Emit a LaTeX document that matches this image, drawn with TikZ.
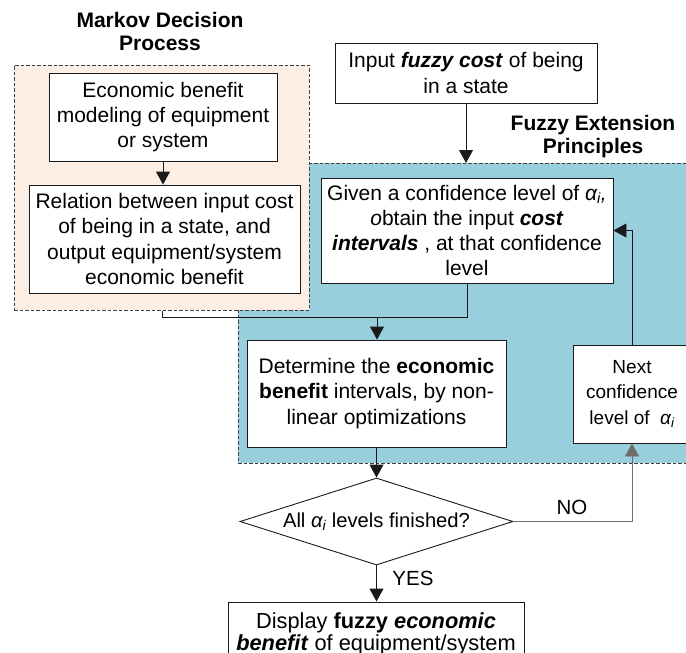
\documentclass[tikz,border=0pt]{standalone}
\usepackage{fontspec}
\setmainfont{Liberation Sans}
\usetikzlibrary{arrows.meta,shapes.geometric}

\definecolor{peach}{HTML}{FDEEE4}
\definecolor{fepblue}{HTML}{99CFDC}
\definecolor{edge}{HTML}{1A1A1A}
\definecolor{frame}{HTML}{404040}
\definecolor{loopgray}{HTML}{6E6E6E}

\tikzset{
  region/.style={draw=frame, dash pattern=on 3.5pt off 2pt, line width=0.8pt,
    inner sep=0pt, anchor=north west},
  stepbox/.style={draw=edge, fill=white, line width=0.9pt, align=center,
    inner sep=2pt, font=\fontsize{21}{25.3}\selectfont},
  decision/.style={draw=edge, fill=white, line width=0.9pt, shape=diamond,
    inner sep=0pt, aspect=3.14, minimum width=273pt, minimum height=87pt,
    font=\fontsize{20.2}{22}\selectfont},
  heading/.style={align=center, font=\fontsize{21}{23.5}\selectfont\bfseries},
  tag/.style={font=\fontsize{20.5}{22}\selectfont},
  flow/.style={draw=edge, line width=0.9pt, -{Triangle[length=13pt,width=14pt]}},
  wire/.style={draw=edge, line width=0.9pt},
}
\newcommand{\alphai}{\textit{α\textsubscript{i}}}

\begin{document}
\begin{tikzpicture}[x=1pt,y=-1pt]
  \useasboundingbox (0,0) rectangle (686,653);
  \clip (0,0) rectangle (686,653);

  % group regions
  \node[region, fill=fepblue, minimum width=470pt, minimum height=300pt]
    (fep) at (238,163) {};
  \node[region, fill=peach, minimum width=295pt, minimum height=245pt]
    (mdp) at (14,65) {};

  % group headings
  \node[heading] (mdptitle) at (160,31.5) {Markov Decision\\Process};
  \node[heading] (feptitle) at (593,136.5) {Fuzzy Extension\\Principles};

  % process steps
  \node[stepbox, minimum width=228pt, minimum height=88pt] (econ) at (163,117)
    {Economic benefit\\modeling of equipment\\or system};
  \node[stepbox, minimum width=271pt, minimum height=108pt] (relation) at (164.5,239)
    {Relation between input cost\\of being in a state, and\\output equipment/system\\economic benefit};
  \node[stepbox, minimum width=262pt, minimum height=60pt] (input) at (466,73)
    {Input \textbf{\textit{fuzzy cost}} of being\\in a state};
  \node[stepbox, minimum width=292pt, minimum height=105pt] (given) at (467,230.5)
    {Given a confidence level of \alphai\textit{,}\\\textit{o}btain the input \textbf{\textit{cost}}\\\textbf{\textit{intervals}} , at that confidence\\level};
  \node[stepbox, minimum width=259pt, minimum height=107pt] (determine) at (376.5,393.5)
    {Determine the \textbf{economic}\\\textbf{benefit} intervals, by non-\\linear optimizations};
  \node[stepbox, minimum width=118pt, minimum height=98pt,
    font=\fontsize{19}{25.5}\selectfont] (next) at (632,394)
    {Next\\confidence\\level of \ \alphai};
  \node[decision] (dec) at (376.5,521.5) {All \alphai\ levels finished?};
  \node[stepbox, minimum width=296pt, minimum height=64pt,
    font=\fontsize{21.8}{22}\selectfont] (display) at (376,634)
    {Display \textbf{fuzzy \textit{economic}}\\\textbf{\textit{benefit}} of equipment/system};

  % junction points
  \coordinate (tap) at (162,317);
  \coordinate (merge) at (377,317);

  % connectors
  \draw[flow] (econ.south) -- (econ.south |- relation.north);
  \draw[flow] (input.south) -- (input.south |- fep.north);
  \draw[wire] (tap |- mdp.south) -- (tap) -- (merge);
  \draw[wire] (given.south) |- (merge);
  \draw[flow] (merge) -- (merge |- determine.north);
  \draw[flow] (determine.south) -- (determine.south |- dec.north);
  \draw[flow, draw=loopgray] (dec.east) -| (next.south);
  \draw[flow] (next.north) |- (given.east);
  \draw[flow] (dec.south) -- (dec.south |- display.north);

  % branch labels
  \node[tag] (nolabel) at (572,507) {NO};
  \node[tag] (yeslabel) at (413,578) {YES};
\end{tikzpicture}
\end{document}
